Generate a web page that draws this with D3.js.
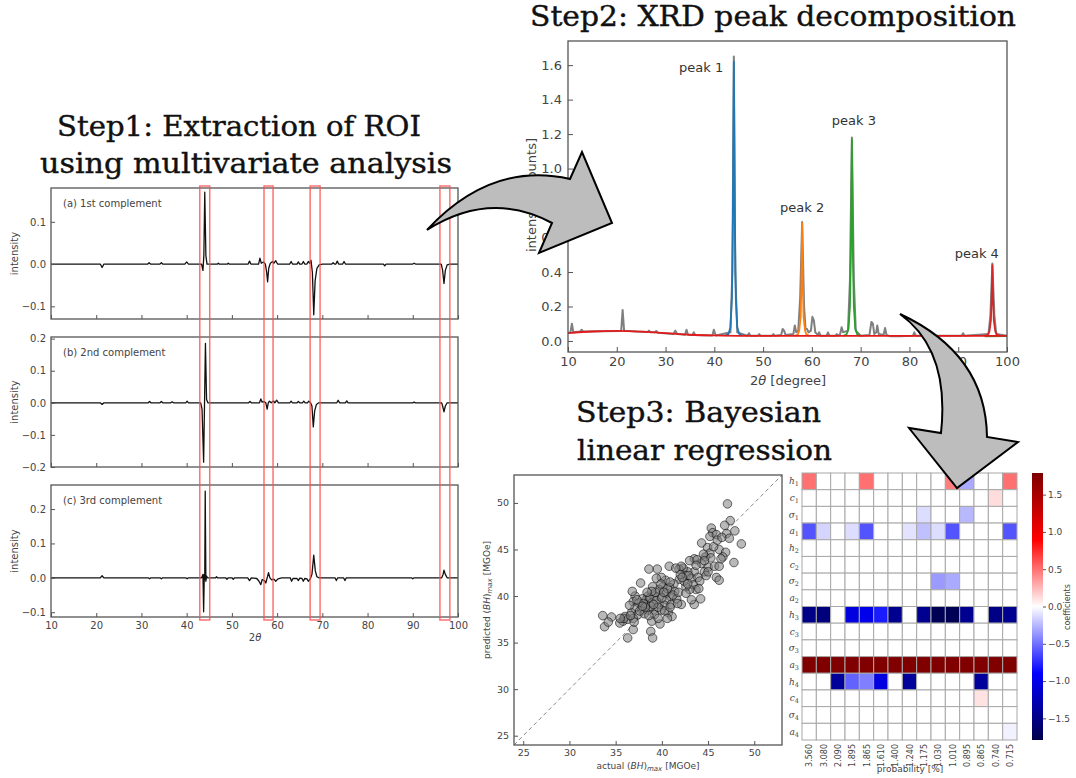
<!DOCTYPE html>
<html>
<head>
<meta charset="utf-8">
<script src="https://cdn.jsdelivr.net/npm/d3@7"></script>
<style>
  body { margin: 0; background: #fff; }
  svg { display: block; }
</style>
</head>
<body>
<svg width="1076" height="778"></svg>
<script>
const svg = d3.select("svg");
const SANS = "DejaVu Sans, sans-serif";
const SERIF = "DejaVu Serif, serif";
const FRAME = "#555";
const TXT = "#444";

// ---- DATA: step 1 (complements) ----
const roiBands = [[42.9, 45.1], [57.1, 59.1], [67.3, 69.5], [96.0, 98.2]];

const comp1 = [[10,0],[20.9,0],[21.3,-0.008],[21.7,0],[31.4,0],[31.7,0.003],[32,0],[34.1,0],[34.4,0.003],[34.7,0],
  [39.6,0],[40,0.005],[40.4,0],[43.3,0],[43.6,-0.015],[43.8,0.02],[44.0,0.17],[44.25,0.02],[44.5,0],[46.8,0],[47,0.002],
  [47.2,0],[49,0],[49.2,0.002],[49.4,0],[53.6,0],[53.9,0.007],[54.2,0],[55.9,0],[56.2,0.014],[56.5,0.002],[57,0.005],
  [57.4,0],[57.7,-0.02],[57.9,-0.042],[58.15,-0.01],[58.5,0.002],[59,0.006],[59.3,0.002],[59.7,0.008],[60.1,0],[62.8,0],
  [63.1,0.006],[63.4,0],[64.4,0],[64.7,0.005],[65,0],[65.5,0],[65.8,0.006],[66.1,0],[66.6,0],[66.9,0.006],[67.2,0.002],
  [67.5,0.009],[67.8,-0.02],[68.1,-0.12],[68.4,-0.04],[68.8,-0.01],[69.3,-0.002],[70,0],[72.1,0],[72.4,0.003],[72.7,0],
  [73,0],[73.3,0.007],[73.6,0],[74.5,0],[74.8,0.006],[75.1,0],[83.5,0],[83.8,-0.004],[84.1,0],[90,0],[90.3,0.002],
  [90.6,0],[96.3,0],[96.6,-0.015],[96.9,-0.046],[97.2,-0.015],[97.6,-0.002],[98.2,0],[100,0]];

const comp2 = [[10,0],[20.9,0],[21.3,-0.005],[21.7,0],[31.5,0],[31.8,0.004],[32.1,0],[34.1,0],[34.4,0.004],[34.7,0],
  [36.5,0],[36.8,0.003],[37.1,0],[39.8,0],[40.1,0.005],[40.4,0],[43.1,0],[43.4,-0.02],[43.75,-0.185],[43.95,0],
  [44.15,0.185],[44.4,0.01],[44.7,0],[53.7,0],[54,0.004],[54.3,0],[56.1,0],[56.4,0.012],[56.7,0.002],[57.1,0.004],
  [57.5,0],[57.8,-0.02],[58.05,0],[58.3,0.005],[58.7,0],[59.2,0.006],[59.5,0],[59.9,0.008],[60.3,0],[62.8,0],
  [63.1,0.005],[63.4,0],[64.4,0],[64.7,0.004],[65,0],[65.6,0],[65.9,0.005],[66.2,0],[66.7,0],[67.0,0.005],[67.4,0],
  [67.7,-0.01],[68.0,-0.075],[68.3,-0.025],[68.7,-0.005],[69.2,0],[73.2,0],[73.5,0.008],[73.8,0],[75.1,0],[75.4,0.006],
  [75.7,0],[90,0],[90.3,0.002],[90.6,0],[96.4,0],[96.6,-0.01],[96.9,-0.028],[97.2,-0.01],[97.6,0],[100,0]];

const comp3 = [[10,0],[20.9,0],[21.3,0.006],[21.7,0],[31.5,0],[31.8,-0.003],[32.1,0],[34.1,0],[34.4,-0.003],[34.7,0],
  [39.8,0],[40.1,-0.003],[40.4,0],[43.3,0],[43.6,0.01],[43.75,-0.099],[43.9,0.01],[44.0,-0.005],[44.1,0.252],
  [44.25,-0.01],[44.4,0.005],[44.6,0],[46.4,0],[46.6,0.003],[46.8,0],[48.6,0],[48.9,-0.004],[49.2,0],[50.0,0],
  [50.3,-0.004],[50.6,0],[53.5,0],[53.9,-0.008],[54.3,0],[55.5,-0.002],[56,-0.01],[56.4,-0.02],[56.7,-0.005],
  [57.2,-0.008],[57.5,-0.015],[57.8,0],[58.1,0.015],[58.4,0],[58.8,-0.006],[59.3,-0.004],[59.7,-0.01],[60.2,-0.003],
  [61,0],[62.9,0],[63.2,-0.01],[63.5,-0.002],[64.4,-0.002],[64.7,-0.008],[65,-0.001],[65.5,-0.002],[65.8,-0.01],
  [66.1,-0.002],[66.6,-0.003],[66.9,-0.01],[67.3,-0.004],[67.7,0.01],[68.1,0.066],[68.45,0.02],[68.8,0.003],[69.3,0],
  [72.8,0],[73.1,-0.008],[73.4,0],[74.7,0],[75,-0.008],[75.3,0],[89.7,0],[90,-0.003],[90.3,0],[96.4,0],[96.7,0.01],
  [96.9,0.022],[97.2,0.01],[97.6,0],[100,0]];

const compPanels = [
  { label: "(a) 1st complement", data: comp1, domain: [-0.13, 0.18], ticks: [-0.1, 0, 0.1], top: 188, bottom: 319 },
  { label: "(b) 2nd complement", data: comp2, domain: [-0.2, 0.205], ticks: [-0.2, -0.1, 0, 0.1, 0.2], top: 337, bottom: 467 },
  { label: "(c) 3rd complement", data: comp3, domain: [-0.114, 0.27], ticks: [-0.1, 0, 0.1, 0.2], top: 485, bottom: 617 }
];
const thetaTicks = [10, 20, 30, 40, 50, 60, 70, 80, 90, 100];

// ---- DATA: step 2 (XRD) ----
const xrdRaw = [[10,0.046],[10.5,0.05],[10.8,0.1],[11.1,0.05],[12.5,0.055],[12.8,0.065],[13.1,0.055],[17,0.057],
  [20.9,0.058],[21.2,0.18],[21.5,0.06],[24,0.055],[26.3,0.052],[26.6,0.06],[26.9,0.05],[27.8,0.05],[28.1,0.058],
  [28.4,0.048],[31.6,0.04],[32,0.06],[32.4,0.04],[34,0.036],[34.3,0.065],[34.6,0.036],[35.5,0.035],[35.8,0.05],
  [36.1,0.034],[39.6,0.032],[39.9,0.065],[40.3,0.032],[43.3,0.05],[43.7,0.4],[44.0,1.65],[44.3,0.4],[44.7,0.05],
  [46.8,0.03],[47.1,0.045],[47.4,0.03],[48.9,0.03],[49.2,0.04],[49.5,0.03],[51.8,0.03],[52.1,0.04],[52.4,0.03],
  [53.7,0.035],[54,0.07],[54.3,0.06],[54.6,0.035],[56.2,0.04],[56.5,0.09],[56.8,0.05],[57.2,0.06],[57.6,0.25],
  [58.0,0.69],[58.4,0.2],[58.7,0.07],[59,0.07],[59.3,0.05],[59.8,0.06],[60.1,0.14],[60.4,0.12],[60.7,0.05],
  [61.2,0.035],[61.5,0.05],[61.8,0.03],[63,0.03],[63.3,0.05],[63.6,0.03],[64.8,0.03],[65.1,0.04],[65.4,0.03],
  [65.8,0.04],[66.1,0.08],[66.4,0.05],[67.4,0.06],[67.8,0.35],[68.2,1.18],[68.6,0.35],[69,0.06],[70,0.03],
  [71.8,0.035],[72.2,0.11],[72.5,0.1],[72.8,0.04],[73.2,0.05],[73.4,0.09],[73.7,0.04],[74.7,0.035],[75,0.075],
  [75.3,0.035],[76,0.028],[78,0.028],[80.7,0.03],[81,0.05],[81.3,0.03],[90.7,0.03],[91,0.045],[91.3,0.03],
  [96.2,0.04],[96.6,0.15],[97,0.45],[97.4,0.15],[97.8,0.04],[100,0.03]];

const xrdBackground = [[10,0.046],[15,0.055],[20,0.058],[25,0.054],[30,0.046],[35,0.036],[40,0.032],[45,0.03],
  [50,0.03],[60,0.029],[70,0.029],[80,0.029],[90,0.029],[100,0.03]];

const peak1 = [[42.2,0.031],[42.9,0.04],[43.3,0.08],[43.6,0.25],[43.8,0.7],[44.0,1.62],[44.2,0.7],[44.4,0.25],[44.7,0.08],[45.1,0.04],[45.8,0.03]];
const peak2 = [[56.5,0.03],[57.1,0.037],[57.4,0.06],[57.7,0.14],[57.85,0.32],[58.0,0.684],[58.15,0.32],[58.3,0.14],[58.6,0.06],[58.9,0.037],[59.5,0.03]];
const peak3 = [[66.4,0.029],[67.1,0.038],[67.5,0.07],[67.8,0.2],[68.0,0.52],[68.2,1.17],[68.4,0.52],[68.6,0.2],[68.9,0.07],[69.3,0.038],[70.0,0.029]];
const peak4 = [[95.3,0.029],[96.0,0.035],[96.4,0.055],[96.7,0.12],[96.85,0.24],[97.0,0.44],[97.15,0.24],[97.3,0.12],[97.6,0.055],[98.0,0.035],[98.7,0.03]];
const peak4base = [[95.5,0.026],[100,0.027]];
const peakNames = ["peak 1", "peak 2", "peak 3", "peak 4"];
const peakColors = ["#1f77b4", "#ff7f0e", "#2ca02c", "#d62728"];
const peakLabelAt = [[37.3, 1.56], [58.0, 0.75], [68.6, 1.25], [93.8, 0.48]];
const xrdYTicks = [0, 0.2, 0.4, 0.6, 0.8, 1.0, 1.2, 1.4, 1.6];

// ---- DATA: step 3 (scatter) ----
const bhPairs = [[47.1,49.9],[47.4,48.1],[46.8,47.6],[47.9,47.0],[48.6,45.6],[47.8,43.6],[45.35,47.3],[45.5,46.8],
  [45.2,46.4],[45.9,46.6],[47.0,46.7],[44.3,45.7],[44.95,45.2],[45.2,44.6],[46.2,45.0],[46.9,44.7],[46.6,44.2],
  [44.7,44.2],[43.5,44.0],[43.0,43.8],[44.3,43.5],[45.0,43.1],[45.7,43.2],[46.2,43.2],[45.9,42.0],[46.2,41.7],
  [44.6,42.6],[43.5,42.6],[42.8,42.6],[42.3,43.0],[41.85,42.9],[42.6,42.2],[43.2,41.9],[43.9,42.0],[44.1,41.6],
  [43.4,41.2],[43.7,40.7],[43.0,40.7],[42.6,41.0],[41.9,41.8],[40.8,43.2],[39.5,42.9],[38.6,42.9],[40.4,41.7],
  [39.95,42.0],[39.4,41.9],[41.3,41.3],[40.85,40.9],[40.1,41.0],[39.7,40.7],[39.0,41.0],[37.7,41.4],[40.5,40.3],
  [41.4,40.5],[41.0,39.9],[41.6,39.7],[40.5,39.6],[39.8,40.0],[39.2,40.0],[38.5,40.0],[38.3,39.6],[37.9,39.7],
  [37.1,40.0],[36.8,40.5],[36.9,39.4],[37.5,39.25],[38.3,39.1],[38.9,39.25],[39.7,39.1],[40.3,39.0],[41.0,39.1],
  [42.1,39.1],[39.95,38.5],[39.1,38.5],[38.5,38.5],[37.8,38.6],[37.1,38.7],[36.7,38.2],[37.4,38.0],[38.1,38.1],
  [39.2,38.0],[40.7,38.2],[41.1,37.8],[43.5,39.1],[44.2,39.7],[36.0,37.8],[35.8,37.3],[36.3,37.5],[36.9,37.6],
  [34.55,37.75],[33.6,37.9],[33.8,36.7],[34.2,37.2],[35.45,37.1],[38.9,37.3],[39.8,37.0],[38.8,36.2],[39.0,35.5],
  [36.3,35.5],[36.9,36.4],[42.1,43.2],[38.0,39.2],[38.7,39.8],[39.4,39.5],[40.0,39.8],[40.6,40.8],[39.3,40.4],
  [38.8,38.9],[37.6,38.4],[38.2,38.8],[39.6,38.8],[40.2,40.4],[41.2,40.1],[41.8,40.4],[42.4,41.6],[42.9,42.2],
  [43.8,43.9],[44.5,44.5],[45.6,45.3],[46.0,46.0],[44.8,42.2],[42.0,42.3],[41.5,43.0],[40.9,41.5],[39.9,41.3],
  [38.9,40.5],[37.3,39.6],[36.5,39.0],[35.9,37.6],[37.0,37.2],[38.6,37.9],[40.3,38.4],[40.9,38.8],[41.7,39.2],
  [42.6,40.3],[43.2,39.6],[44.0,40.8],[45.3,44.1],[46.5,46.3],[47.3,46.2],[44.6,43.8],[43.7,43.3],[42.2,42.0],
  [39.1,39.1],[38.4,40.4],[37.9,38.9],[36.6,37.9],[35.5,37.6],[39.6,37.6],[40.6,37.6],[42.8,41.3],[45.0,42.6],
  [46.4,44.0]];
const bhDomain = [24, 53];
const bhTicks = [25, 30, 35, 40, 45, 50];

// ---- DATA: step 3 (heatmap) ----
const heatRows = [["h","1"],["c","1"],["σ","1"],["a","1"],["h","2"],["c","2"],["σ","2"],["a","2"],
  ["h","3"],["c","3"],["σ","3"],["a","3"],["h","4"],["c","4"],["σ","4"],["a","4"]];
const heatCols = ["3.560","3.080","2.090","1.895","1.865","1.610","1.400","1.240","1.175","1.030","1.010","0.895","0.865","0.740","0.715"];
const heatValues = [
  [0.5,0,0,0,0.5,0,0,0,0,0,0.45,-0.3,0,0,0.5],
  [0,0,0,0,0,0,0,0,0,0,0,0,0,0.12,0],
  [0,0,0,0,0,0,0,0,-0.12,0,0,-0.25,0,0,0],
  [-0.6,-0.15,0,-0.12,-0.6,0,0,-0.1,-0.22,-0.12,-0.6,0,0,0,-0.6],
  [0,0,0,0,0,0,0,0,0,0,0,0,0,0,0],
  [0,0,0,0,0,0,0,0,0,0,0,0,0,0,0],
  [0,0,0,0,0,0,0,0,0,-0.35,-0.3,0,0,0,0],
  [0,0,0,0,0,0,0,0,0,0,0,0,0,0,0],
  [-1.5,-1.55,0,-1.05,-1.0,-0.8,-1.45,0,-1.45,-1.75,-1.75,-1.45,0,-1.5,-1.45],
  [0,0,0,0,0,0,0,0,0,0,0,0,0,0,0],
  [0,0,0,0,0,0,0,0,0,0,0,0,0,0,0],
  [1.78,1.78,1.78,1.78,1.78,1.78,1.78,1.78,1.78,1.78,1.78,1.78,1.78,1.78,1.78],
  [0,0,-1.4,-0.55,-0.45,-1.05,0,-1.4,0,0,0,0,-1.4,0,0],
  [0,0,0,0,0,0,0,0,0,0,0,0,0.1,0,0],
  [0,0,0,0,0,0,0,0,0,0,0,0,0,0,0],
  [0,0,0,0,0,0,0,0,0,0,0,0,0,0,-0.05]
];
const cbTicks = [-1.5, -1.0, -0.5, 0.0, 0.5, 1.0, 1.5];
const cbMax = 1.79;

// ---- TITLES / ARROWS ----
const titles = [
  { text: "Step1: Extraction of ROI", x0: 57, x1: 421, y: 136 },
  { text: "using multivariate analysis", x0: 40, x1: 452, y: 173 },
  { text: "Step2: XRD peak decomposition", x0: 530, x1: 1016, y: 26 },
  { text: "Step3: Bayesian", x0: 576, x1: 821, y: 422 },
  { text: "linear regression", x0: 577, x1: 832, y: 460 }
];
const arrowPaths = [
  "M427,230 Q491,161 570,179 L582,152 L612,223 L539,253 L552,223 Q490,190 427,230 Z",
  "M900,314 Q986,354 987,437 L1018,442 L957,488 L909,428 L941,433 Q950,350 900,314 Z"
];

// ---- HELPERS ----
const fmt1 = d3.format(".1f");

function frame(g, x0, y0, x1, y1) {
  g.append("rect").attr("x", x0).attr("y", y0).attr("width", x1 - x0).attr("height", y1 - y0)
    .attr("fill", "none").attr("stroke", FRAME).attr("stroke-width", 1.3);
}

function styleAxis(sel, size) {
  sel.select(".domain").remove();
  sel.selectAll(".tick line").attr("stroke", FRAME);
  sel.selectAll(".tick text").attr("fill", TXT).style("font-family", SANS).style("font-size", size + "px");
}

function thetaLabel(g, x, y, size, suffix) {
  const t = g.append("text").attr("x", x).attr("y", y).attr("text-anchor", "middle")
    .attr("fill", TXT).style("font-family", SANS).style("font-size", size + "px");
  t.append("tspan").text("2");
  t.append("tspan").attr("font-style", "italic").text("θ");
  if (suffix) t.append("tspan").text(suffix);
}

// ---- STEP 1 ----
const xL = d3.scaleLinear().domain([10, 100]).range([51, 458]);
const gL = svg.append("g");

compPanels.forEach((p, i) => {
  const y = d3.scaleLinear().domain(p.domain).range([p.bottom, p.top]);
  const line = d3.line().x(d => xL(d[0])).y(d => y(d[1]));
  gL.append("path").datum(p.data).attr("d", line)
    .attr("fill", "none").attr("stroke", "#111").attr("stroke-width", 1.3).attr("stroke-linejoin", "round");
  frame(gL, 51, p.top, 458, p.bottom);
  gL.append("g").attr("transform", "translate(51,0)")
    .call(d3.axisLeft(y).tickValues(p.ticks).tickSize(-4).tickPadding(5).tickFormat(fmt1))
    .call(s => styleAxis(s, 10));
  const xa = d3.axisBottom(xL).tickValues(thetaTicks).tickSize(-4).tickPadding(5);
  if (i < 2) xa.tickFormat("");
  gL.append("g").attr("transform", `translate(0,${p.bottom})`).call(xa).call(s => styleAxis(s, 10));
  gL.append("text").attr("x", 63).attr("y", p.top + 19).text(p.label)
    .attr("fill", TXT).style("font-family", SANS).style("font-size", "10px");
  const cy = (p.top + p.bottom) / 2;
  gL.append("text").attr("transform", `translate(18,${cy}) rotate(-90)`).attr("text-anchor", "middle")
    .text("intensity").attr("fill", TXT).style("font-family", SANS).style("font-size", "10px");
});
thetaLabel(gL, 255, 641, 10, "");

gL.selectAll("rect.roi").data(roiBands).join("rect").attr("class", "roi")
  .attr("x", d => xL(d[0])).attr("width", d => xL(d[1]) - xL(d[0]))
  .attr("y", 186).attr("height", 434)
  .attr("fill", "none").attr("stroke", "#ff4d4d").attr("stroke-opacity", 0.8).attr("stroke-width", 1.5);

// ---- STEP 2 ----
const xX = d3.scaleLinear().domain([10, 100]).range([568, 1007]);
const yX = d3.scaleLinear().domain([-0.064, 1.74]).range([352, 41]);
const gX = svg.append("g");
const xrdLine = d3.line().x(d => xX(d[0])).y(d => yX(d[1]));

gX.append("path").datum(xrdRaw).attr("d", xrdLine).attr("fill", "none")
  .attr("stroke", "#7f7f7f").attr("stroke-width", 2).attr("stroke-linejoin", "round");
gX.append("path").datum(peak4base).attr("d", xrdLine).attr("fill", "none")
  .attr("stroke", peakColors[2]).attr("stroke-width", 1.6);
[peak1, peak2, peak3, peak4].forEach((pk, i) => {
  gX.append("path").datum(pk).attr("d", xrdLine).attr("fill", "none")
    .attr("stroke", peakColors[i]).attr("stroke-width", 1.8).attr("stroke-linejoin", "round");
});
gX.append("path").datum(xrdBackground).attr("d", xrdLine.curve(d3.curveMonotoneX)).attr("fill", "none")
  .attr("stroke", "#e31a1c").attr("stroke-width", 1.8);
xrdLine.curve(d3.curveLinear);

frame(gX, 568, 41, 1007, 352);
gX.append("g").attr("transform", "translate(568,0)")
  .call(d3.axisLeft(yX).tickValues(xrdYTicks).tickSize(-5).tickPadding(6).tickFormat(fmt1))
  .call(s => styleAxis(s, 13));
gX.append("g").attr("transform", "translate(0,352)")
  .call(d3.axisBottom(xX).tickValues(thetaTicks).tickSize(-5).tickPadding(5))
  .call(s => styleAxis(s, 13));
thetaLabel(gX, 788, 385, 13, " [degree]");
gX.append("text").attr("transform", "translate(536,195) rotate(-90)").attr("text-anchor", "middle")
  .text("intensity [counts]").attr("fill", TXT).style("font-family", SANS).style("font-size", "13px");
peakNames.forEach((n, i) => {
  gX.append("text").attr("x", xX(peakLabelAt[i][0])).attr("y", yX(peakLabelAt[i][1]))
    .attr("text-anchor", "middle").text(n)
    .attr("fill", "#333").style("font-family", SANS).style("font-size", "13px");
});

// ---- STEP 3: scatter ----
const xS = d3.scaleLinear().domain(bhDomain).range([514, 782]);
const yS = d3.scaleLinear().domain(bhDomain).range([745, 475]);
const gS = svg.append("g");
gS.append("line").attr("x1", xS(bhDomain[0])).attr("y1", yS(bhDomain[0]))
  .attr("x2", xS(bhDomain[1])).attr("y2", yS(bhDomain[1]))
  .attr("stroke", "#888").attr("stroke-width", 1).attr("stroke-dasharray", "4,3");
gS.selectAll("circle").data(bhPairs).join("circle")
  .attr("cx", d => xS(d[0])).attr("cy", d => yS(d[1])).attr("r", 4.3)
  .attr("fill", "#808080").attr("fill-opacity", 0.55)
  .attr("stroke", "#000").attr("stroke-opacity", 0.55).attr("stroke-width", 1);
frame(gS, 514, 475, 782, 745);
gS.append("g").attr("transform", "translate(514,0)")
  .call(d3.axisLeft(yS).tickValues(bhTicks).tickSize(-4).tickPadding(5))
  .call(s => styleAxis(s, 9.5));
gS.append("g").attr("transform", "translate(0,745)")
  .call(d3.axisBottom(xS).tickValues(bhTicks).tickSize(-4).tickPadding(4))
  .call(s => styleAxis(s, 9.5));

function bhLabel(t, pre) {
  t.attr("fill", TXT).style("font-family", SANS).style("font-size", "9px");
  t.append("tspan").text(pre + " (");
  t.append("tspan").attr("font-style", "italic").text("BH");
  t.append("tspan").text(")");
  t.append("tspan").attr("font-style", "italic").attr("font-size", "7px").attr("dy", 2).text("max");
  t.append("tspan").attr("dy", -2).text(" [MGOe]");
}
bhLabel(gS.append("text").attr("x", 648).attr("y", 769).attr("text-anchor", "middle"), "actual");
bhLabel(gS.append("text").attr("transform", "translate(490,600) rotate(-90)").attr("text-anchor", "middle"), "predicted");

// ---- STEP 3: heatmap ----
const seismic = d3.scaleLinear()
  .domain([-cbMax, -cbMax / 2, 0, cbMax / 2, cbMax])
  .range(["#00004c", "#0000ff", "#ffffff", "#ff0000", "#7f0000"]).clamp(true);
const xH = d3.scaleBand().domain(heatCols).range([802, 1017]);
const yH = d3.scaleBand().domain(d3.range(heatRows.length)).range([473, 740]);
const gH = svg.append("g");
heatValues.forEach((row, r) => {
  gH.selectAll(null).data(row).join("rect")
    .attr("x", (d, c) => xH(heatCols[c])).attr("y", yH(r))
    .attr("width", xH.bandwidth()).attr("height", yH.bandwidth())
    .attr("fill", d => seismic(d)).attr("stroke", "#a8a8a8").attr("stroke-width", 1);
});
heatRows.forEach((lab, r) => {
  const t = gH.append("text").attr("x", 799).attr("y", yH(r) + yH.bandwidth() / 2 + 3)
    .attr("text-anchor", "end").attr("fill", TXT).style("font-family", SERIF).style("font-size", "9px");
  t.append("tspan").attr("font-style", "italic").text(lab[0]);
  t.append("tspan").attr("font-size", "6.5px").attr("dy", 2).text(lab[1]);
});
heatCols.forEach(c => {
  const cx = xH(c) + xH.bandwidth() / 2;
  gH.append("text").attr("transform", `translate(${cx + 3},744) rotate(-90)`)
    .attr("text-anchor", "end").text(c)
    .attr("fill", TXT).style("font-family", SANS).style("font-size", "8px");
});
gH.append("text").attr("x", 910).attr("y", 772).attr("text-anchor", "middle").text("probability [%]")
  .attr("fill", TXT).style("font-family", SANS).style("font-size", "9px");

// colorbar
const defs = svg.append("defs");
const grad = defs.append("linearGradient").attr("id", "cb").attr("x1", 0).attr("y1", 1).attr("x2", 0).attr("y2", 0);
d3.range(0, 1.0001, 0.05).forEach(o => {
  grad.append("stop").attr("offset", o).attr("stop-color", seismic(-cbMax + 2 * cbMax * o));
});
const yC = d3.scaleLinear().domain([-cbMax, cbMax]).range([740, 473]);
gH.append("rect").attr("x", 1032).attr("y", 473).attr("width", 11).attr("height", 267).attr("fill", "url(#cb)");
gH.append("g").attr("transform", "translate(1043,0)")
  .call(d3.axisRight(yC).tickValues(cbTicks).tickSize(3).tickPadding(2).tickFormat(fmt1))
  .call(s => styleAxis(s, 9));
gH.append("text").attr("transform", "translate(1070,607) rotate(-90)").attr("text-anchor", "middle")
  .text("coefficients").attr("fill", TXT).style("font-family", SANS).style("font-size", "8px");

// ---- TITLES ----
titles.forEach(t => {
  svg.append("text").attr("x", t.x0).attr("y", t.y).text(t.text)
    .attr("textLength", t.x1 - t.x0).attr("lengthAdjust", "spacingAndGlyphs")
    .attr("fill", "#111").attr("stroke", "#111").attr("stroke-width", 0.4)
    .style("font-family", SERIF).style("font-size", "28px");
});

// ---- ARROWS ----
svg.selectAll("path.arrow").data(arrowPaths).join("path").attr("class", "arrow")
  .attr("d", d => d).attr("fill", "#bdbdbd").attr("stroke", "#000")
  .attr("stroke-width", 2).attr("stroke-linejoin", "miter");
</script>
</body>
</html>
